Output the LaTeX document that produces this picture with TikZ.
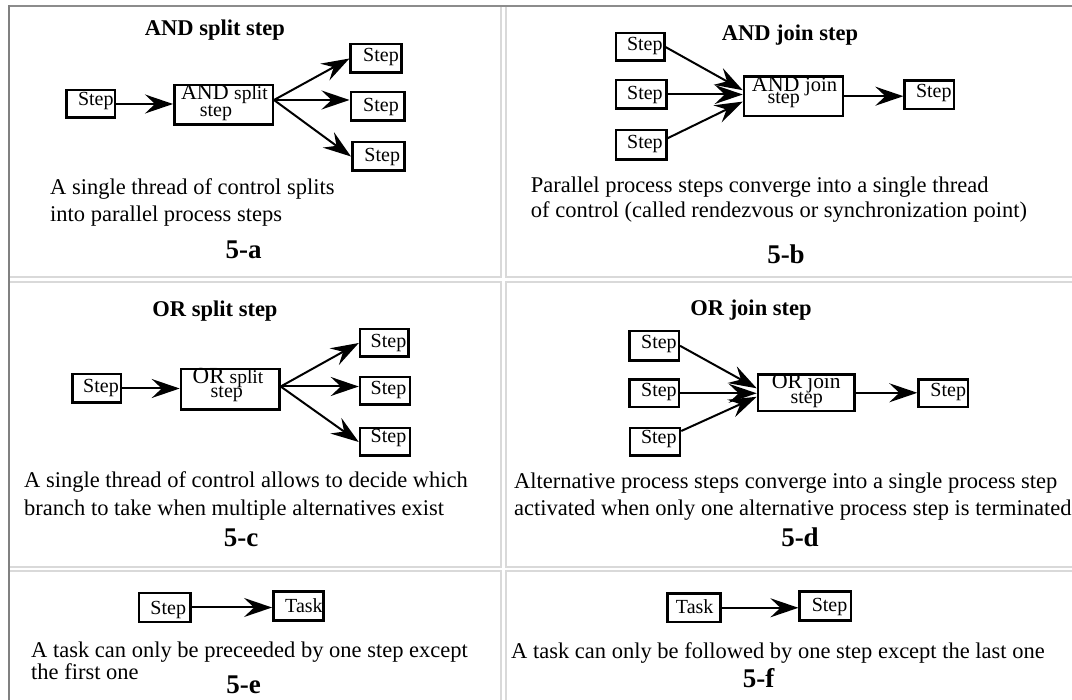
\documentclass[tikz,border=0pt]{standalone}
\usepackage{fontspec}
\setmainfont{Liberation Serif}
\usetikzlibrary{arrows.meta}

% text right-aligned at #1 right of the box centre, baseline raised by #2
\newcommand\rtext[3]{\smash{\rlap{\hspace*{#1}\llap{\raisebox{#2}{#3}}}}}
% text centred at half of #1 from the box centre, baseline raised by #2
\newcommand\ctext[3]{\smash{\makebox[0pt]{\hspace*{#1}\raisebox{#2}{#3}}}}

\tikzset{
  stepbox/.style={draw, line width=2.5pt, rectangle, inner sep=0pt,
    font=\fontsize{20}{20}\selectfont},
  flow/.style={line width=2pt, -{Stealth[length=28pt,width=19pt,inset=10pt]}},
  title/.style={font=\bfseries\fontsize{22.5}{27}\selectfont, anchor=base, inner sep=0pt},
  desc/.style={font=\fontsize{22.5}{27}\selectfont, anchor=base west, inner sep=0pt},
  tag/.style={font=\bfseries\fontsize{27}{30}\selectfont, anchor=base, inner sep=0pt},
  cellborder/.style={draw=black!15, line width=2pt},
}

\begin{document}
\begin{tikzpicture}[x=1pt, y=-1pt]
\useasboundingbox (0,0) rectangle (1072,700);
\clip (0,0) rectangle (1072,700);

% table cells
\draw[cellborder] (9,6) rectangle (501,277);
\draw[cellborder] (505.5,6) rectangle (1090,277);
\draw[cellborder] (9,282) rectangle (501,567);
\draw[cellborder] (505.5,282) rectangle (1090,567);
\draw[cellborder] (9,571) rectangle (501,720);
\draw[cellborder] (505.5,571) rectangle (1090,720);
% outer table frame
\draw[black!45, line width=1.6pt] (8,6) -- (1072,6);
\draw[black!50, line width=2.4pt] (9,5.5) -- (9,700);

% ---------- 5-a : AND split ----------
\node[title] (ta) at (215,36) {AND split step};
\node[stepbox, minimum width=48.1pt, minimum height=27.5pt] (a0) at (90.7,104) {\rtext{22.9pt}{-2pt}{Step}};
\node[stepbox, minimum width=98.5pt, minimum height=39.5pt] (asplit) at (223.5,105)
  {\ctext{1.8pt}{5pt}{\fontsize{22}{22}\selectfont AND {\fontsize{19.5}{20}\selectfont split}}\ctext{-15pt}{-12pt}{step}};
\node[stepbox, minimum width=51pt, minimum height=28.5pt] (a1) at (376.2,58.5) {\rtext{22.6pt}{-3pt}{Step}};
\node[stepbox, minimum width=53.5pt, minimum height=28.5pt] (a2) at (377.5,106.5) {\rtext{21.3pt}{-5pt}{Step}};
\node[stepbox, minimum width=52.1pt, minimum height=28.5pt] (a3) at (378.3,156.5) {\rtext{21.7pt}{-5pt}{Step}};
\draw[flow] (a0.east) -- (a0.east -| asplit.west);
\coordinate (asrc) at ([yshift=5pt]asplit.east);
\draw[flow] (asrc) -- (a1.west);
\draw[flow] (asrc) -- (asrc -| a2.west);
\draw[flow] (asrc) -- (a3.west);
\node[desc] (da1) at (50,195) {A single thread of control splits};
\node[desc] (da2) at (50,222) {into parallel process steps};
\node[tag] (la) at (243.6,259) {5-a};

% ---------- 5-b : AND join ----------
\node[title] (tb) at (790,41) {AND join step};
\node[stepbox, minimum width=48.3pt, minimum height=27.5pt] (b1) at (640.1,47) {\rtext{22.5pt}{-3.5pt}{Step}};
\node[stepbox, minimum width=50.5pt, minimum height=28.5pt] (b2) at (641,94.5) {\rtext{21.7pt}{-4.8pt}{Step}};
\node[stepbox, minimum width=50.5pt, minimum height=29.5pt] (b3) at (641,145) {\rtext{21.7pt}{-3.3pt}{Step}};
\node[stepbox, minimum width=99pt, minimum height=39.8pt] (bjoin) at (793.5,96.2)
  {\ctext{2pt}{4.6pt}{\fontsize{22}{22}\selectfont AND {\fontsize{20.5}{20}\selectfont join}}\ctext{-19.6pt}{-7pt}{step}};
\node[stepbox, minimum width=49.2pt, minimum height=28.2pt] (b4) at (929.2,94.7) {\rtext{22.4pt}{-2.6pt}{Step}};
\draw[flow] (b1.east) -- ([yshift=6pt]bjoin.west);
\draw[flow] (b2.east) -- (b2.east -| bjoin.west);
\draw[flow] ([yshift=6.7pt]b3.east) -- ([yshift=-5.4pt]bjoin.west);
\draw[flow] (bjoin.east) -- (bjoin.east -| b4.west);
\node[desc] (db1) at (530.7,193) {Parallel process steps converge into a single thread};
\node[desc] (db2) at (530.7,218) {of control (called rendezvous or synchronization point)};
\node[tag] (lb) at (786,264) {5-b};

% ---------- 5-c : OR split ----------
\node[title] (tc) at (215,317) {OR split step};
\node[stepbox, minimum width=48.5pt, minimum height=28.5pt] (c0) at (96.8,388.5) {\rtext{22pt}{-3.8pt}{Step}};
\node[stepbox, minimum width=98.5pt, minimum height=40.5pt] (corsplit) at (230.2,389.5)
  {\ctext{-4.4pt}{6.2pt}{{\fontsize{23}{23}\selectfont OR} {\fontsize{19.5}{20}\selectfont split}}\ctext{-6.8pt}{-8.2pt}{step}};
\node[stepbox, minimum width=48.5pt, minimum height=27.5pt] (c1) at (384.3,343) {\rtext{22pt}{-5pt}{Step}};
\node[stepbox, minimum width=50.2pt, minimum height=27.5pt] (c2) at (385.1,391) {\rtext{21.2pt}{-4pt}{Step}};
\node[stepbox, minimum width=50.2pt, minimum height=27.5pt] (c3) at (385.1,442) {\rtext{21.2pt}{-0.5pt}{Step}};
\draw[flow] (c0.east) -- (c0.east -| corsplit.west);
\coordinate (csrc) at ([yshift=3pt]corsplit.east);
\draw[flow] (csrc) -- (c1.west);
\draw[flow] (csrc) -- (csrc -| c2.west);
\draw[flow] (csrc) -- (c3.west);
\node[desc] (dc1) at (24,488) {A single thread of control allows to decide which};
\node[desc] (dc2) at (24,516) {branch to take when multiple alternatives exist};
\node[tag] (lc) at (241,547) {5-c};

% ---------- 5-d : OR join ----------
\node[title] (td) at (751,316) {OR join step};
\node[stepbox, minimum width=49.2pt, minimum height=29.2pt] (d1) at (654.2,345.8) {\rtext{22.5pt}{-2.9pt}{Step}};
\node[stepbox, minimum width=49.2pt, minimum height=27.5pt] (d2) at (654.2,393.3) {\rtext{22.5pt}{-3.4pt}{Step}};
\node[stepbox, minimum width=50pt, minimum height=27.5pt] (d3) at (655,441.7) {\rtext{21.6pt}{-1.6pt}{Step}};
\node[stepbox, minimum width=96.5pt, minimum height=36.5pt] (djoin) at (806.2,392.8)
  {\ctext{0pt}{4.5pt}{{\fontsize{22}{22}\selectfont OR} {\fontsize{21.4}{21}\selectfont join}}\ctext{1pt}{-10.5pt}{step}};
\node[stepbox, minimum width=49.5pt, minimum height=27.5pt] (d4) at (943.3,393.3) {\rtext{22.7pt}{-3.4pt}{Step}};
\draw[flow] (d1.east) -- ([yshift=4.5pt]djoin.west);
\draw[flow] (d2.east) -- (d2.east -| djoin.west);
\draw[flow] ([yshift=10.7pt]d3.east) -- ([yshift=-4pt]djoin.west);
\draw[flow] (djoin.east) -- (djoin.east -| d4.west);
\node[desc] (dd1) at (514,489) {Alternative process steps converge into a single process step};
\node[desc] (dd2) at (514,516) {activated when only one alternative process step is terminated};
\node[tag] (ld) at (800,547) {5-d};

% ---------- 5-e : step before task ----------
\node[stepbox, minimum width=51.5pt, minimum height=29.1pt] (e1) at (164.8,607.5) {\rtext{21.2pt}{-6.5pt}{Step}};
\node[stepbox, minimum width=50.2pt, minimum height=29.2pt] (e2) at (298.4,605.9) {\rtext{24.3pt}{-7pt}{Task}};
\draw[flow] (e1.east) -- (e1.east -| e2.west);
\node[desc] (de1) at (31,657) {A task can only be preceeded by one step except};
\node[desc] (de2) at (31,679) {the first one};
\node[tag] (le) at (243.6,693) {5-e};

% ---------- 5-f : task before step ----------
\node[stepbox, minimum width=53.3pt, minimum height=28.5pt] (f1) at (693.9,607.8) {\rtext{19.5pt}{-5.5pt}{Task}};
\node[stepbox, minimum width=51.1pt, minimum height=29.2pt] (f2) at (825.2,605.9) {\rtext{22.1pt}{-5.8pt}{Step}};
\draw[flow] (f1.east) -- (f1.east -| f2.west);
\node[desc] (df1) at (511,658) {A task can only be followed by one step except the last one};
\node[tag] (lf) at (758.6,687) {5-f};
\end{tikzpicture}
\end{document}
